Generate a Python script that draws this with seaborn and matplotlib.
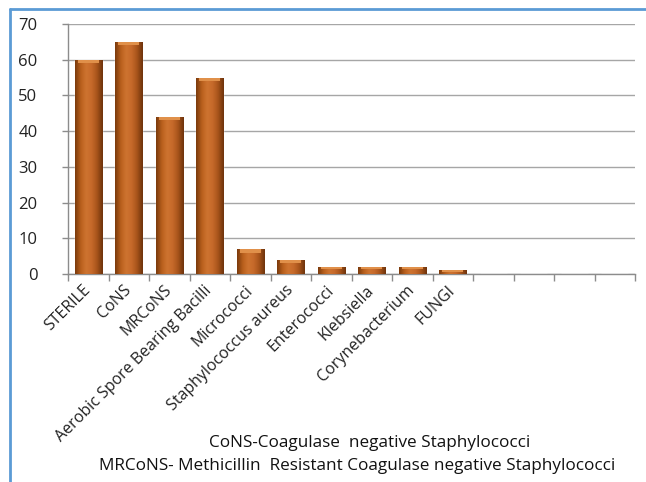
import matplotlib
matplotlib.use("Agg")
import matplotlib.pyplot as plt
import seaborn as sns
import numpy as np
import pandas as pd
from matplotlib.colors import LinearSegmentedColormap
from matplotlib.patches import Rectangle

categories = ["STERILE", "CoNS", "MRCoNS", "Aerobic Spore Bearing Bacilli",
              "Micrococci", "Staphylococcus aureus", "Enterococci", "Klebsiella",
              "Corynebacterium", "FUNGI", "", " ", "  ", "   "]
counts = [60, 65, 44, 55, 7, 4, 2, 2, 2, 1, 0, 0, 0, 0]
footnotes = ["CoNS-Coagulase  negative Staphylococci",
             "MRCoNS- Methicillin  Resistant Coagulase negative Staphylococci"]

sns.set_style("white")
plt.rcParams["font.family"] = ["Open Sans", "DejaVu Sans"]

df = pd.DataFrame({"organism": categories, "count": counts})

fig = plt.figure(figsize=(6.46, 4.82), dpi=100)
ax = fig.add_axes([68 / 646, 1 - 274 / 482, 567 / 646, 250 / 482])

sns.barplot(data=df, x="organism", y="count", color="#B8621B", width=0.67,
            saturation=1, ax=ax, zorder=3)

# cylinder-ish shading on each bar
shade = LinearSegmentedColormap.from_list(
    "bar", ["#7A3A0C", "#B85F1C", "#CE7430", "#C6692A", "#A6531A", "#6E330C"])
grad = np.linspace(0, 1, 64).reshape(1, -1)
for p in list(ax.patches):
    x0, y0 = p.get_x(), p.get_y()
    w, h = p.get_width(), p.get_height()
    if h <= 0:
        continue
    im = ax.imshow(grad, cmap=shade, aspect="auto", zorder=4,
                   extent=[x0, x0 + w, y0, y0 + h], interpolation="bicubic")
    im.set_clip_path(p)
    cap = min(1.0, h * 0.35)
    ax.add_patch(Rectangle((x0 + w * 0.12, y0 + h - cap), w * 0.76, cap,
                           color="#E0904A", zorder=5, lw=0))

n = len(categories)
ax.set_xlim(-0.5, n - 0.5)
ax.set_ylim(0, 70)
ax.set_yticks(range(0, 71, 10))
ax.yaxis.grid(True, color="#A6A6A6", lw=1, zorder=0)
ax.set_axisbelow(True)
ax.set_xlabel("")
ax.set_ylabel("")

for s in ["top", "right"]:
    ax.spines[s].set_visible(False)
for s in ["left", "bottom"]:
    ax.spines[s].set_color("#8C8C8C")
    ax.spines[s].set_linewidth(1)

ax.set_xticks(np.arange(n + 1) - 0.5)
ax.set_xticklabels([""] * (n + 1))
ax.set_xticks(np.arange(n), minor=True)
ax.set_xticklabels(categories, minor=True)
ax.tick_params(axis="x", which="major", bottom=True, length=5, width=1,
               color="#8C8C8C", direction="out")
ax.tick_params(axis="x", which="minor", bottom=True, length=0, pad=10,
               labelsize=11.5, labelcolor="#222222", labelrotation=45)
plt.setp(ax.get_xticklabels(minor=True), ha="right", va="center",
         rotation_mode="anchor")
ax.tick_params(axis="y", left=True, length=4, width=1, color="#8C8C8C",
               labelsize=12, labelcolor="#222222", pad=18)

for i, t in enumerate(footnotes):
    fig.text([370 / 646, 357 / 646][i], 1 - [443, 466][i] / 482, t,
             ha="center", va="center", fontsize=12.3, color="#111111")

# blue chart frame (left and top visible)
fig.add_artist(plt.Line2D([10 / 646, 10 / 646], [0, 1 - 9 / 482],
                          color="#5B9BD5", lw=2, transform=fig.transFigure))
fig.add_artist(plt.Line2D([10 / 646, 1], [1 - 9 / 482, 1 - 9 / 482],
                          color="#5B9BD5", lw=2, transform=fig.transFigure))

fig.savefig("out.png", dpi=100)
